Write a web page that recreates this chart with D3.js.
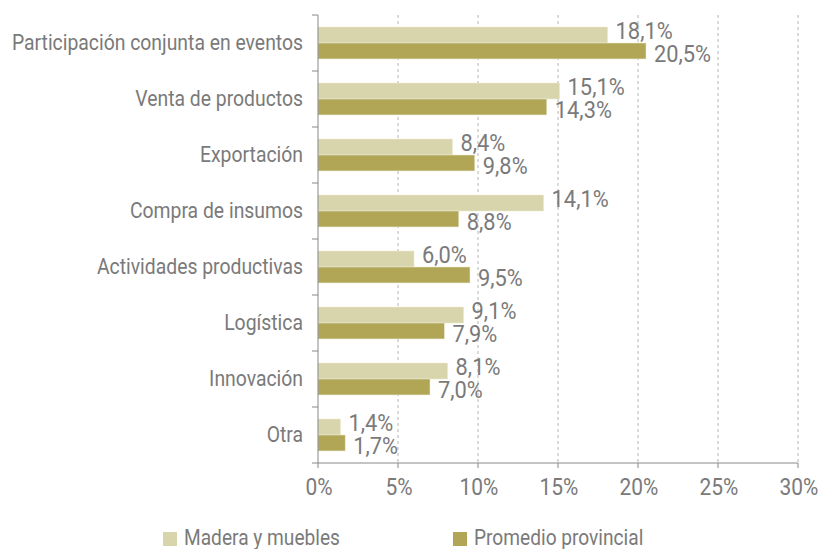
<!DOCTYPE html>
<html><head><meta charset="utf-8">
<script src="https://cdn.jsdelivr.net/npm/d3@7"></script>
<style>body{margin:0;background:#fff}svg{display:block}</style>
</head><body>
<svg id="c" width="818" height="549"></svg>
<script>
const categories = ["Participación conjunta en eventos","Venta de productos","Exportación","Compra de insumos","Actividades productivas","Logística","Innovación","Otra"];
const seriesNames = ["Madera y muebles","Promedio provincial"];
const madera = [18.1,15.1,8.4,14.1,6.0,9.1,8.1,1.4];
const promedio = [20.5,14.3,9.8,8.8,9.5,7.9,7.0,1.7];
const xTicks = [0,5,10,15,20,25,30];
const colors = ["#d8d4ab","#b0a655"];
const font = "Roboto, 'Liberation Sans', sans-serif";
const txt = "#7a7a7a";

const svg = d3.select("#c");
const m = {l:318, r:798, t:15, b:463};
const x = d3.scaleLinear().domain([0,30]).range([m.l,m.r]);
const y = d3.scaleBand().domain(categories).range([m.t,m.b]).paddingInner(0.43).paddingOuter(0.215);
const sub = d3.scaleBand().domain([0,1]).range([0,y.bandwidth()]);

// condensed-looking text: horizontal scale applied per text role
function label(g, px, py, str, size, sx, anchor){
  return g.append("text")
    .attr("transform",`translate(${px},${py}) scale(${sx},1)`)
    .attr("dy","0.35em").attr("text-anchor",anchor||"start")
    .attr("font-family",font).attr("font-size",size).attr("fill",txt)
    .text(str);
}

// gridlines
svg.append("g").selectAll("line").data(xTicks.slice(1)).join("line")
  .attr("x1",d=>x(d)).attr("x2",d=>x(d)).attr("y1",m.t).attr("y2",m.b)
  .attr("stroke","#b5b5b5").attr("stroke-dasharray","3,3").attr("stroke-width",1);

const fmt = v => v.toFixed(1).replace(".",",") + "%";
const data = [madera,promedio];
data.forEach((vals,s)=>{
  svg.append("g").selectAll("rect").data(vals).join("rect")
    .attr("x",x(0)).attr("y",(d,i)=>y(categories[i])+sub(s))
    .attr("width",d=>x(d)-x(0)).attr("height",sub.bandwidth())
    .attr("fill",colors[s]).attr("stroke","#ebe8cf").attr("stroke-width",0.6);
  const lg = svg.append("g");
  vals.forEach((d,i)=>{
    label(lg, x(d)+8, y(categories[i])+sub(s)+sub.bandwidth()/2 + (s===0?-4:2.5), fmt(d), 23, 0.95);
  });
});

// y axis
const yAxis = svg.append("g");
yAxis.append("line").attr("x1",m.l).attr("x2",m.l).attr("y1",m.t).attr("y2",m.b).attr("stroke","#888");
const bounds = d3.range(categories.length+1).map(i=>m.t + i*(m.b-m.t)/categories.length);
yAxis.selectAll("line.t").data(bounds).join("line").attr("class","t")
  .attr("x1",m.l-6).attr("x2",m.l).attr("y1",d=>d).attr("y2",d=>d).attr("stroke","#888");
categories.forEach(c=>{
  label(yAxis, m.l-15, y(c)+y.bandwidth()/2-1, c, 22, 0.88, "end");
});

// x axis
const xa = svg.append("g");
xa.append("line").attr("x1",m.l).attr("x2",m.r).attr("y1",m.b).attr("y2",m.b).attr("stroke","#888");
xa.selectAll("line.t").data(xTicks).join("line").attr("class","t")
  .attr("x1",d=>x(d)).attr("x2",d=>x(d)).attr("y1",m.b).attr("y2",m.b+5).attr("stroke","#888");
xTicks.forEach(t=>{
  label(xa, x(t)+1, 487, t+"%", 23, 0.91, "middle");
});

// legend
const legX = [163,453];
seriesNames.forEach((n,i)=>{
  svg.append("rect").attr("x",legX[i]).attr("y",532).attr("width",14).attr("height",14).attr("fill",colors[i]);
  label(svg, legX[i]+21, 537, n, 22, 0.87, "start");
});
</script>
</body></html>
